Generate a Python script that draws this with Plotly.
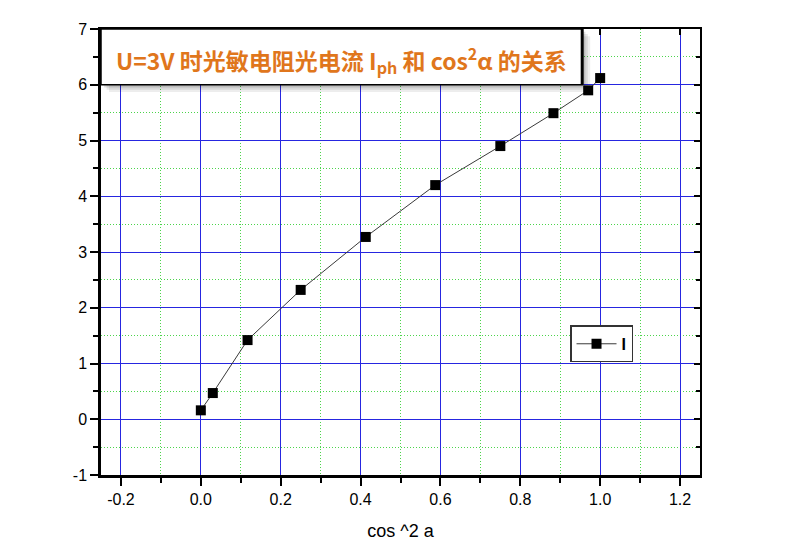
import plotly.graph_objects as go

# cos^2(alpha) for alpha = 90, 80, ..., 0 deg, and photocurrent I
cos2 = [0.0, 0.03, 0.117, 0.25, 0.413, 0.587, 0.75, 0.883, 0.97, 1.0]
current = [0.16, 0.47, 1.42, 2.32, 3.27, 4.2, 4.9, 5.49, 5.9, 6.12]

x_ticks = [-0.2, 0.0, 0.2, 0.4, 0.6, 0.8, 1.0, 1.2]
x_labels = ["-0.2", "0.0", "0.2", "0.4", "0.6", "0.8", "1.0", "1.2"]
x_minor = [-0.1, 0.1, 0.3, 0.5, 0.7, 0.9, 1.1]
y_ticks = [-1, 0, 1, 2, 3, 4, 5, 6, 7]
y_labels = ["-1", "0", "1", "2", "3", "4", "5", "6", "7"]
y_minor = [-0.5, 0.5, 1.5, 2.5, 3.5, 4.5, 5.5, 6.5]

title_text = "U=3V 时光敏电阻光电流 I<sub>ph</sub> 和 cos<sup>2</sup>α 的关系"

fig = go.Figure()
fig.add_trace(go.Scatter(
    x=cos2, y=current, name="<b>I</b>", mode="lines+markers",
    line=dict(color="#3a3a3a", width=1),
    marker=dict(symbol="square", size=10, color="black"),
))
# invisible trace so the mirrored top/right axes get drawn
fig.add_trace(go.Scatter(x=cos2, y=current, xaxis="x2", yaxis="y2",
                         mode="markers", marker=dict(opacity=0),
                         showlegend=False, hoverinfo="skip"))

grid_minor = dict(showgrid=True, gridcolor="#4CD44C", griddash="1px,2px", gridwidth=1)

fig.update_layout(
    width=811, height=558,
    margin=dict(l=93, r=119, t=21, b=91),
    paper_bgcolor="white", plot_bgcolor="white",
    font=dict(family="Liberation Sans, Arial", color="black"),
    xaxis=dict(
        range=[-0.25, 1.25], tickvals=x_ticks, ticktext=x_labels,
        showgrid=True, gridcolor="#2626E0", gridwidth=1,
        zeroline=False, showline=True, linecolor="black", linewidth=2.5,
        ticks="outside", ticklen=8, tickwidth=2, tickcolor="black",
        tickfont=dict(size=16),
        minor=dict(tickvals=x_minor, ticks="outside", ticklen=5, tickwidth=2,
                   tickcolor="black", **grid_minor),
        title=dict(text="cos ^2 a", font=dict(size=18), standoff=18),
    ),
    yaxis=dict(
        range=[-1, 7], tickvals=y_ticks, ticktext=y_labels,
        showgrid=True, gridcolor="#2626E0", gridwidth=1,
        zeroline=False, showline=True, linecolor="black", linewidth=2.5,
        ticks="outside", ticklen=8, tickwidth=2, tickcolor="black",
        tickfont=dict(size=16),
        minor=dict(tickvals=y_minor, ticks="outside", ticklen=5, tickwidth=2,
                   tickcolor="black", **grid_minor),
    ),
    xaxis2=dict(
        range=[-0.25, 1.25], overlaying="x", side="top", anchor="y",
        tickvals=x_ticks, showticklabels=False, showgrid=False, zeroline=False,
        showline=True, linecolor="black", linewidth=2,
        ticks="inside", ticklen=6, tickwidth=2, tickcolor="black",
    ),
    yaxis2=dict(
        range=[-1, 7], overlaying="y", side="right", anchor="x",
        tickvals=y_ticks, showticklabels=False, showgrid=False, zeroline=False,
        showline=True, linecolor="black", linewidth=2,
        ticks="inside", ticklen=6, tickwidth=2, tickcolor="black",
        minor=dict(tickvals=y_minor, ticks="inside", ticklen=4, tickwidth=2,
                   tickcolor="black"),
    ),
    legend=dict(
        x=0.783, y=0.294, xanchor="left", yanchor="middle",
        bgcolor="white", bordercolor="#333333", borderwidth=1.5,
        font=dict(size=16), itemwidth=40,
    ),
    showlegend=True,
)

# title box with soft drop shadow
for dx, dy, a in [(0.02, 0.13, 0.07), (0.014, 0.09, 0.09), (0.008, 0.05, 0.12)]:
    fig.add_shape(type="rect", xref="x", yref="y",
                  x0=-0.25 + dx, x1=0.955 + dx, y0=6.0 - dy, y1=7.0 - dy,
                  fillcolor=f"rgba(0,0,0,{a})", line=dict(width=0), layer="above")
fig.add_shape(type="rect", xref="x", yref="y", x0=-0.25, x1=0.955, y0=6.0, y1=7.0,
              fillcolor="white", line=dict(color="black", width=1.5), layer="above")
fig.add_shape(type="line", xref="x", yref="y", x0=0.955, x1=0.955, y0=6.0, y1=7.0,
              line=dict(color="black", width=3), layer="above")
fig.add_annotation(
    x=0.3525, y=6.45, xref="x", yref="y", text="<b>" + title_text + "</b>",
    showarrow=False, font=dict(family="Noto Sans CJK SC", size=23, color="#E0761C"),
)

fig.write_html("out.html")
